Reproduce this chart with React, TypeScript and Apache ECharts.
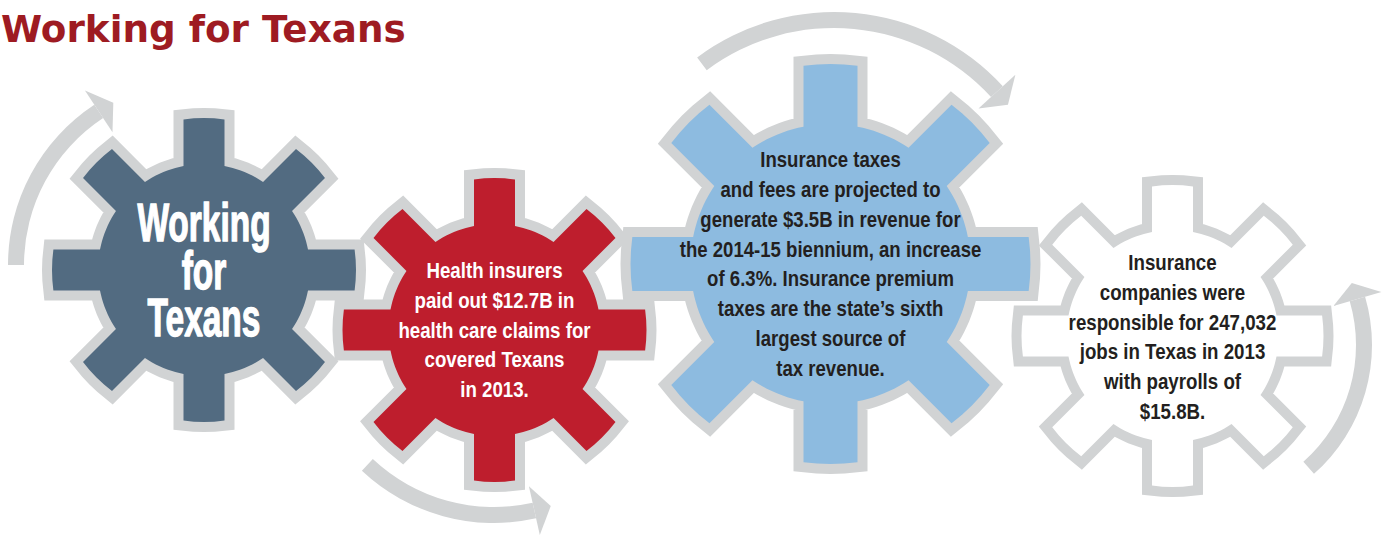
import React, { useEffect, useRef } from "react";
import * as echarts from "echarts";

// ---------- content ----------
const titleText = "Working for Texans";
const gearLabels = [
  "Working\nfor\nTexans",
  "Health insurers\npaid out $12.7B in\nhealth care claims for\ncovered Texans\nin 2013.",
  "Insurance taxes\nand fees are projected to\ngenerate $3.5B in revenue for\nthe 2014-15 biennium, an increase\nof 6.3%. Insurance premium\ntaxes are the state\u2019s sixth\nlargest source of\ntax revenue.",
  "Insurance\ncompanies were\nresponsible for 247,032\njobs in Texas in 2013\nwith payrolls of\n$15.8B.",
];
const gearFills = ["#526B81", "#BE1E2D", "#8DBBE0", "#FFFFFF"];
const gearTextColors = ["#FFFFFF", "#FFFFFF", "#231F20", "#231F20"];

// ---------- layout ----------
const OUTLINE = "#D1D3D4";
const gearGeom = [
  { cx: 204, cy: 270, R: 152, r: 106, w: 20.5 },
  { cx: 494.5, cy: 330, R: 152, r: 106, w: 20.5 },
  { cx: 830.5, cy: 264, R: 200, r: 140, w: 27 },
  { cx: 1172.5, cy: 336, R: 151, r: 106, w: 20.5 },
];
const labelLayout = [
  { dy: 0, size: 54, lh: 47.5, sx: 0.62, stroke: 1.4 },
  { dy: 0, size: 22, lh: 29.8, sx: 0.85, stroke: 0 },
  { dy: 0, size: 22, lh: 29.8, sx: 0.845, stroke: 0 },
  { dy: 1, size: 22, lh: 29.8, sx: 0.85, stroke: 0 },
];
// arrows: centre, radius, start/end angle (deg, screen), direction
const arrows = [
  { cx: 200, cy: 265, r: 184, a0: 180, a1: 236.6, dir: 1 },
  { cx: 494, cy: 330, r: 185, a0: 133.2, a1: 77.4, dir: -1 },
  { cx: 834, cy: 241, r: 221, a0: 233.3, a1: 317.5, dir: 1 },
  { cx: 1200, cy: 345, r: 164, a0: 48.5, a1: -16.3, dir: -1 },
];

const rad = (d: number) => (d * Math.PI) / 180;

function gearPoints(cx: number, cy: number, R: number, r: number, w: number) {
  const pts: number[][] = [];
  const aB = Math.asin(w / r);
  const aO = Math.asin(w / R);
  const step = Math.PI / 4;
  const P = (rr: number, t: number) => [cx + rr * Math.cos(t), cy + rr * Math.sin(t)];
  for (let k = 0; k < 8; k++) {
    const a = k * step;
    pts.push(P(r, a - aB));
    for (let j = 0; j <= 4; j++) pts.push(P(R, a - aO + (2 * aO * j) / 4));
    pts.push(P(r, a + aB));
    const s = a + aB;
    const e = a + step - aB;
    for (let j = 1; j < 10; j++) pts.push(P(r, s + ((e - s) * j) / 10));
  }
  return pts;
}

function buildGraphics() {
  const els: any[] = [];
  // arrows
  arrows.forEach((ar) => {
    const hw = 8;
    const s = Math.min(ar.a0, ar.a1);
    const e = Math.max(ar.a0, ar.a1);
    els.push({
      type: "sector",
      z: 1,
      shape: { cx: ar.cx, cy: ar.cy, r0: ar.r - hw, r: ar.r + hw, startAngle: rad(s), endAngle: rad(e), clockwise: true },
      style: { fill: OUTLINE },
    });
    const t = rad(ar.a1);
    const tip = rad(ar.a1) + (ar.dir * 17) / ar.r;
    els.push({
      type: "polygon",
      z: 1,
      shape: {
        points: [
          [ar.cx + (ar.r - 25) * Math.cos(t), ar.cy + (ar.r - 25) * Math.sin(t)],
          [ar.cx + ar.r * Math.cos(tip), ar.cy + ar.r * Math.sin(tip)],
          [ar.cx + (ar.r + 25) * Math.cos(t), ar.cy + (ar.r + 25) * Math.sin(t)],
        ],
      },
      style: { fill: OUTLINE },
    });
  });
  // gears
  gearGeom.forEach((g, i) => {
    const pts = gearPoints(g.cx, g.cy, g.R, g.r, g.w);
    els.push({
      type: "polygon",
      z: 2 + i * 2,
      shape: { points: pts },
      style: { fill: OUTLINE, stroke: OUTLINE, lineWidth: 20, lineJoin: "miter", miterLimit: 4 },
    });
    els.push({
      type: "polygon",
      z: 3 + i * 2,
      shape: { points: pts },
      style: { fill: gearFills[i] },
    });
  });
  // labels
  gearLabels.forEach((txt, i) => {
    const g = gearGeom[i];
    const L = labelLayout[i];
    els.push({
      type: "text",
      z: 20,
      x: g.cx,
      y: g.cy + L.dy,
      scaleX: L.sx,
      style: {
        text: txt,
        fill: gearTextColors[i],
        stroke: L.stroke ? gearTextColors[i] : undefined,
        lineWidth: L.stroke,
        fontFamily: '"Liberation Sans", Arial, sans-serif',
        fontWeight: "bold",
        fontSize: L.size,
        lineHeight: L.lh,
        textAlign: "center",
        textVerticalAlign: "middle",
        align: "center",
        verticalAlign: "middle",
      },
    });
  });
  // title
  els.push({
    type: "text",
    z: 20,
    x: 1,
    y: 29,
    style: {
      text: titleText,
      fill: "#9E1B22",
      fontFamily: '"DejaVu Sans", sans-serif',
      fontWeight: "bold",
      fontSize: 37.3,
      textAlign: "left",
      textVerticalAlign: "middle",
      align: "left",
      verticalAlign: "middle",
    },
  });
  return els;
}

export default function App() {
  const ref = useRef<HTMLDivElement>(null);
  useEffect(() => {
    if (!ref.current) return;
    const chart = echarts.init(ref.current, undefined, { renderer: "svg" });
    chart.setOption({
      animation: false,
      backgroundColor: "#FFFFFF",
      graphic: { elements: buildGraphics() },
    });
    return () => chart.dispose();
  }, []);
  return (
    <div
      ref={ref}
      style={{ position: "absolute", left: 0, top: 0, width: 1388, height: 536, background: "#fff" }}
    />
  );
}
